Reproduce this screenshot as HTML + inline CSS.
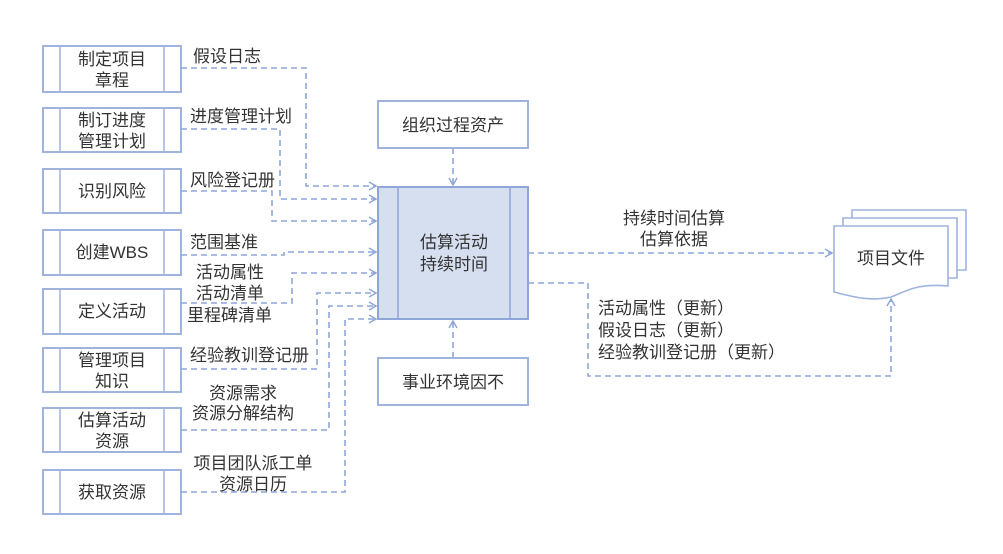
<!DOCTYPE html>
<html><head><meta charset="utf-8"><style>
body{margin:0;background:#fff;}
svg{display:block;}
text{font-family:"Liberation Sans","Noto Sans CJK SC",sans-serif;font-size:17px;fill:#333;}
</style></head><body>
<svg width="1003" height="554" viewBox="0 0 1003 554" xmlns="http://www.w3.org/2000/svg">
<defs><marker id="a" markerWidth="10" markerHeight="10" refX="8" refY="5" orient="auto" markerUnits="userSpaceOnUse"><path d="M1,1 L8,5 L1,9" fill="none" stroke="#8ea6d8" stroke-width="1.5"/></marker></defs>
<g fill="#fff" stroke="#9fb3dd" stroke-width="2">
<rect x="43" y="46" width="138" height="46"/><rect x="43" y="108" width="138" height="44"/>
<rect x="43" y="169" width="138" height="44"/><rect x="43" y="230" width="138" height="45"/>
<rect x="43" y="289" width="138" height="45"/><rect x="43" y="348" width="138" height="44"/>
<rect x="43" y="408" width="138" height="44"/><rect x="43" y="470" width="138" height="44"/>
</g>
<g stroke="#9fb3dd" stroke-width="1.5">
<path d="M60 46V92M164 46V92M60 108V152M164 108V152M60 169V213M164 169V213M60 230V275M164 230V275M60 289V334M164 289V334M60 348V392M164 348V392M60 408V452M164 408V452M60 470V514M164 470V514"/>
</g>
<g text-anchor="middle">
<text x="112" y="65">制定项目</text><text x="112" y="86">章程</text>
<text x="112" y="126">制订进度</text><text x="112" y="147">管理计划</text>
<text x="112" y="197">识别风险</text>
<text x="112" y="258">创建WBS</text>
<text x="112" y="317">定义活动</text>
<text x="112" y="366">管理项目</text><text x="112" y="387">知识</text>
<text x="112" y="426">估算活动</text><text x="112" y="447">资源</text>
<text x="112" y="498">获取资源</text>
</g>
<g fill="none" stroke="#8ea6d8" stroke-width="1.6" stroke-dasharray="6,4">
<path d="M181 68H306V186H376" marker-end="url(#a)"/>
<path d="M181 129H280V199H376" marker-end="url(#a)"/>
<path d="M181 191H272V221H376" marker-end="url(#a)"/>
<path d="M181 255H284V252H376" marker-end="url(#a)"/>
<path d="M181 303H292V273H376" marker-end="url(#a)"/>
<path d="M181 369H317V293H376" marker-end="url(#a)"/>
<path d="M181 430H329V306H376" marker-end="url(#a)"/>
<path d="M181 492H345V319H376" marker-end="url(#a)"/>
<path d="M453 148V185" marker-end="url(#a)"/>
<path d="M453 358V321" marker-end="url(#a)"/>
<path d="M528 253H832" marker-end="url(#a)"/>
<path d="M528 283H588V376H891V299" marker-end="url(#a)"/>
</g>
<g>
<text x="193" y="62">假设日志</text>
<text x="190" y="122">进度管理计划</text>
<text x="190" y="186">风险登记册</text>
<text x="190" y="248">范围基准</text>
<text x="196" y="278">活动属性</text>
<text x="196" y="299">活动清单</text>
<text x="187" y="321">里程碑清单</text>
<text x="190" y="361">经验教训登记册</text>
<text x="243" y="399" text-anchor="middle">资源需求</text>
<text x="243" y="419" text-anchor="middle">资源分解结构</text>
<text x="253" y="469" text-anchor="middle">项目团队派工单</text>
<text x="253" y="490" text-anchor="middle">资源日历</text>
</g>
<rect x="378" y="101" width="150" height="47" fill="#fff" stroke="#9fb3dd" stroke-width="2"/>
<text x="453" y="131" text-anchor="middle">组织过程资产</text>
<rect x="378" y="358" width="150" height="47" fill="#fff" stroke="#9fb3dd" stroke-width="2"/>
<text x="453" y="388" text-anchor="middle">事业环境因不</text>
<rect x="378" y="187" width="150" height="132" fill="#d6dff0" stroke="#8ea6d8" stroke-width="2"/>
<path d="M398 187V319M510 187V319" stroke="#8ea6d8" stroke-width="1.5"/>
<text x="454" y="248" text-anchor="middle">估算活动</text>
<text x="454" y="270" text-anchor="middle">持续时间</text>
<text x="674" y="224" text-anchor="middle">持续时间估算</text>
<text x="674" y="245" text-anchor="middle">估算依据</text>
<text x="598" y="314">活动属性（更新）</text>
<text x="598" y="336">假设日志（更新）</text>
<text x="598" y="358">经验教训登记册（更新）</text>
<g fill="#fff" stroke="#9fb3dd" stroke-width="1.6">
<path d="M852 210H966V270H852Z"/>
<path d="M843 218H957V278H843Z"/>
<path d="M834 226H948V286C915 283 905 292 891 297C870 302 850 296 834 292Z"/>
</g>
<text x="891" y="264" text-anchor="middle">项目文件</text>
</svg>
</body></html>
